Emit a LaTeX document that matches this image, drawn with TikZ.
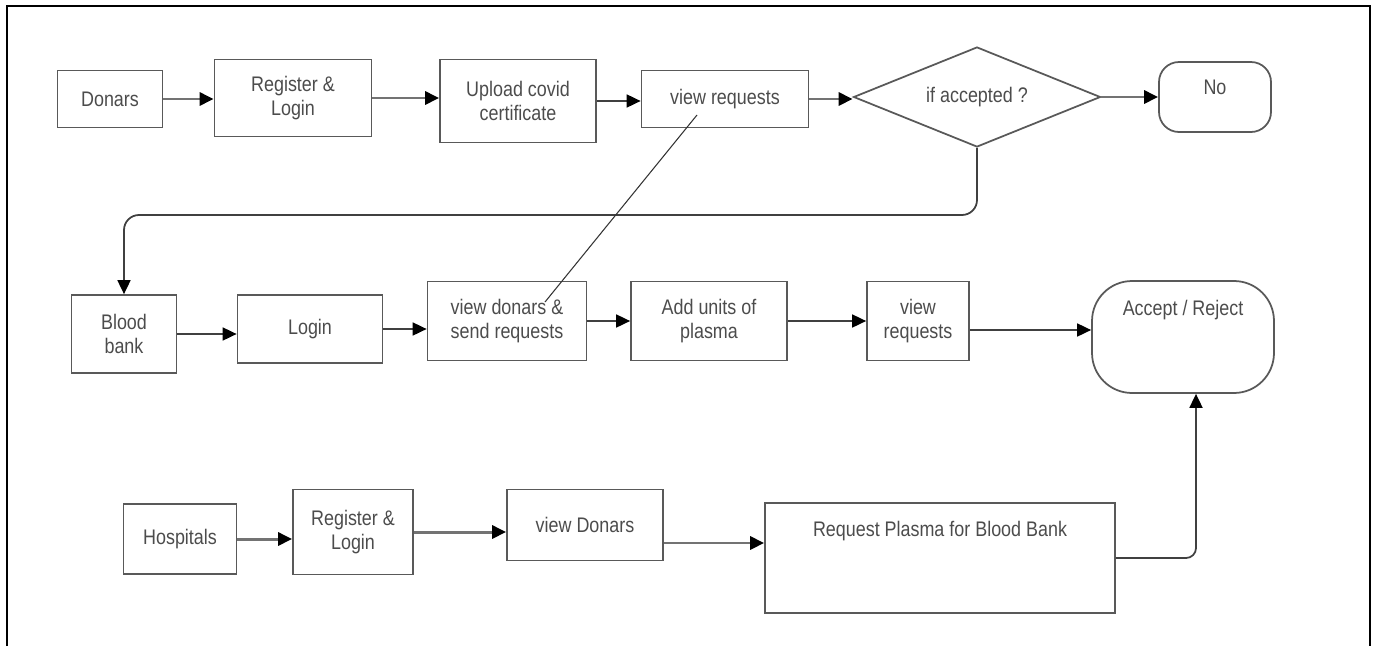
\documentclass[tikz,border=0pt]{standalone}
\usepackage{fontspec}
\setmainfont{Liberation Sans}[FakeStretch=0.85]
\usetikzlibrary{shapes.geometric,arrows.meta}

\begin{document}
\begin{tikzpicture}[x=0.02cm, y=-0.02cm, >={Triangle[length=0.28cm,width=0.26cm,color=black]},
  every node/.style={font=\fontsize{12}{13.6}\selectfont, text=black!70},
  box/.style={draw=black!65,line width=1pt,align=center,inner sep=1pt},
  flow/.style={->,line width=1pt,black!75},
  heavy/.style={->,line width=1.7pt,black!55}]
\useasboundingbox (0,0) rectangle (1376,646);
\draw[line width=1.5pt] (7,646) -- (7,6) -- (1370,6) -- (1370,646);
% donar row
\node[box,minimum width=2.10cm,minimum height=1.14cm] (donars) at (110,99) {Donars};
\node[box,minimum width=3.14cm,minimum height=1.54cm] (reg1) at (293,98) {Register \&\\ Login};
\node[box,minimum width=3.12cm,minimum height=1.66cm] (upload) at (518,101) {Upload covid\\ certificate};
\node[box,minimum width=3.34cm,minimum height=1.14cm] (viewreq1) at (725,99) {view requests};
\node[diamond,draw=black!65,line width=1pt,aspect=2.5,inner sep=0pt,minimum width=4.94cm,minimum height=2.00cm] (accepted) at (977,97) {if accepted ?};
\node[box,rounded corners=0.4cm,minimum width=2.24cm,minimum height=1.40cm,
  label={[anchor=center,yshift=-0.52cm]north:No}] (no) at (1215,97) {};
\draw[heavy] (donars.east) -- (donars.east -| reg1.west); \draw[heavy] (reg1.east) -- (reg1.east -| upload.west);
\draw[flow] (upload.east) -- (upload.east -| viewreq1.west); \draw[heavy] (viewreq1.east) -- (viewreq1.east -| accepted.west);
\draw[heavy] (accepted.east) -- (no.west);
% blood bank row
\node[box,minimum width=2.10cm,minimum height=1.56cm] (blood) at (124,334) {Blood\\ bank};
\node[box,minimum width=2.90cm,minimum height=1.36cm] (login) at (310,329) {Login};
\node[box,minimum width=3.18cm,minimum height=1.58cm] (viewdon) at (507,321) {view donars \&\\ send requests};
\node[box,minimum width=3.12cm,minimum height=1.58cm] (addunits) at (709,321) {Add units of\\ plasma};
\node[box,minimum width=2.04cm,minimum height=1.58cm] (viewreq2) at (918,321) {view\\ requests};
\node[box,rounded corners=0.8cm,minimum width=3.64cm,minimum height=2.24cm,
  label={[anchor=center,yshift=-0.60cm]north:Accept / Reject}] (accrej) at (1183,337) {};
\coordinate (turn) at (0,215);
\draw[flow,rounded corners=0.3cm] (accepted.south) -- (accepted.south |- turn) -- (blood.north |- turn) -- (blood.north);
\draw[flow] (blood.east) -- (blood.east -| login.west); \draw[flow] (login.east) -- (login.east -| viewdon.west);
\draw[flow] (viewdon.east) -- (viewdon.east -| addunits.west); \draw[flow] (addunits.east) -- (addunits.east -| viewreq2.west);
\draw[flow] ([yshift=-0.18cm]viewreq2.east) -- ([yshift=-0.18cm]viewreq2.east -| accrej.west);
\coordinate (lnA) at ([shift={(-28,16)}]viewreq1.center); \coordinate (lnB) at ([shift={(38,-19)}]viewdon.center);
\draw[line width=0.6pt,black!80] (lnA) -- (lnB);
% hospital row
\node[box,minimum width=2.26cm,minimum height=1.40cm] (hosp) at (180,539) {Hospitals};
\node[box,minimum width=2.40cm,minimum height=1.70cm] (reg2) at (353,532) {Register \&\\ Login};
\node[box,minimum width=3.12cm,minimum height=1.42cm] (viewdon2) at (585,525) {view Donars};
\node[box,minimum width=7.00cm,minimum height=2.20cm,
  label={[anchor=center,yshift=-0.58cm]north:Request Plasma for Blood Bank}] (reqplasma) at (940,558) {};
\draw[heavy] (hosp.east) -- (hosp.east -| reg2.west); \draw[heavy] (reg2.east) -- (reg2.east -| viewdon2.west);
\draw[heavy] ([yshift=-0.36cm]viewdon2.east) -- ([yshift=-0.36cm]viewdon2.east -| reqplasma.west);
\draw[flow,rounded corners=0.2cm] (reqplasma.east) -| ([xshift=0.26cm]accrej.south);
\end{tikzpicture}
\end{document}
